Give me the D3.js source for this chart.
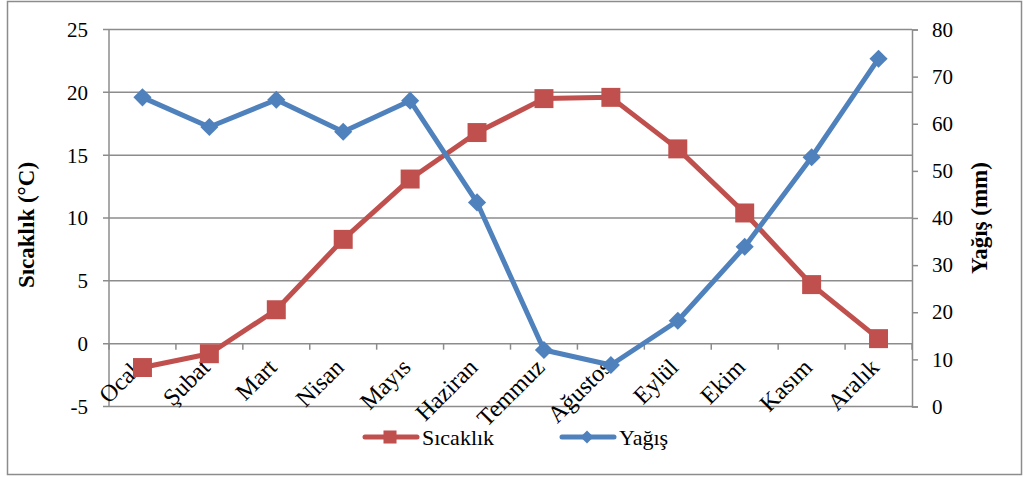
<!DOCTYPE html>
<html>
<head>
<meta charset="utf-8">
<script src="https://cdn.jsdelivr.net/npm/d3@7"></script>
<style>
  body { margin: 0; background: #fff; }
</style>
</head>
<body>
<div id="chart"></div>
<script>
// Data
const months = ['Ocak', 'Şubat', 'Mart', 'Nisan', 'Mayıs', 'Haziran', 'Temmuz', 'Ağustos', 'Eylül', 'Ekim', 'Kasım', 'Aralık'];
const temperature = [-1.9, -0.8, 2.7, 8.3, 13.1, 16.8, 19.5, 19.6, 15.5, 10.4, 4.7, 0.4];
const precipitation = [65.6, 59.3, 65.1, 58.3, 64.9, 43.3, 12.0, 8.8, 18.2, 33.9, 52.9, 73.8];
const leftTicks = [-5, 0, 5, 10, 15, 20, 25];
const rightTicks = [0, 10, 20, 30, 40, 50, 60, 70, 80];

(() => {
  const WIDTH = 1023;
  const HEIGHT = 477;
  const RED = '#C0504D';
  const BLUE = '#4F81BD';
  const GRID = '#8c8c8c';
  const FONT = "'Liberation Serif', 'Times New Roman', 'DejaVu Serif', serif";

  const m = { left: 109, right: 912, top: 29.5, bottom: 406.5 };

  const svg = d3.select('#chart').append('svg')
    .attr('width', WIDTH)
    .attr('height', HEIGHT)
    .style('font-family', FONT);

  // outer frame
  svg.append('rect')
    .attr('x', 7.5).attr('y', 1.5)
    .attr('width', 1014).attr('height', 473)
    .attr('fill', 'none').attr('stroke', GRID).attr('stroke-width', 1.5);

  const x = d3.scaleBand().domain(months).range([m.left, m.right]);
  const yL = d3.scaleLinear().domain([-5, 25]).range([m.bottom, m.top]);
  const yR = d3.scaleLinear().domain([0, 80]).range([m.bottom, m.top]);

  // gridlines
  svg.append('g').selectAll('line').data(leftTicks).join('line')
    .attr('x1', m.left - 6).attr('x2', m.right)
    .attr('y1', d => yL(d)).attr('y2', d => yL(d))
    .attr('stroke', GRID).attr('stroke-width', 1.5);

  // left axis line
  svg.append('line')
    .attr('x1', m.left).attr('x2', m.left)
    .attr('y1', m.top).attr('y2', m.bottom)
    .attr('stroke', GRID).attr('stroke-width', 1.5);

  // left tick labels
  svg.append('g').selectAll('text').data(leftTicks).join('text')
    .attr('x', 88).attr('y', d => yL(d))
    .attr('dy', '0.35em').attr('text-anchor', 'end')
    .style('font-family', FONT).style('font-size', '21px')
    .text(d => d);

  // right axis
  const rightAxis = d3.axisRight(yR).tickValues(rightTicks).tickSize(6).tickPadding(14);
  const gR = svg.append('g').attr('transform', `translate(${m.right},0)`).call(rightAxis);
  gR.attr('font-family', null).attr('font-size', null);
  gR.select('.domain').attr('stroke', GRID).attr('stroke-width', 1.5);
  gR.selectAll('.tick line').attr('stroke', GRID).attr('stroke-width', 1.5);
  gR.selectAll('.tick text').style('font-family', FONT).style('font-size', '21px');

  // category axis at y=0
  const y0 = yL(0);
  svg.append('g').selectAll('line').data(months.concat(['end'])).join('line')
    .attr('x1', (d, i) => m.left + i * x.step()).attr('x2', (d, i) => m.left + i * x.step())
    .attr('y1', y0).attr('y2', y0 + 6)
    .attr('stroke', GRID).attr('stroke-width', 1.5);

  svg.append('g').selectAll('text').data(months).join('text')
    .attr('text-anchor', 'end')
    .attr('transform', d => `translate(${x(d) + x.bandwidth() / 2 + 2},${y0 + 25}) rotate(-45)`)
    .style('font-family', FONT).style('font-size', '24px')
    .text(d => d);

  // axis titles
  svg.append('text')
    .attr('transform', `translate(34,225) rotate(-90)`)
    .attr('text-anchor', 'middle')
    .style('font-family', FONT).style('font-size', '23px').style('font-weight', 'bold')
    .text('Sıcaklık (°C)');

  svg.append('text')
    .attr('transform', `translate(987,218) rotate(-90)`)
    .attr('text-anchor', 'middle')
    .style('font-family', FONT).style('font-size', '23px').style('font-weight', 'bold')
    .text('Yağış (mm)');

  const cx = d => x(d) + x.bandwidth() / 2;

  // temperature line
  const lineT = d3.line().x((d, i) => cx(months[i])).y(d => yL(d));
  svg.append('path').datum(temperature)
    .attr('d', lineT).attr('fill', 'none')
    .attr('stroke', RED).attr('stroke-width', 5).attr('stroke-linejoin', 'round');

  // precipitation line
  const lineP = d3.line().x((d, i) => cx(months[i])).y(d => yR(d));
  svg.append('path').datum(precipitation)
    .attr('d', lineP).attr('fill', 'none')
    .attr('stroke', BLUE).attr('stroke-width', 5).attr('stroke-linejoin', 'round');

  const sq = d3.symbol().type(d3.symbolSquare).size(360);
  const dia = d3.symbol().type(d3.symbolDiamond2).size(210);

  svg.append('g').selectAll('path').data(temperature).join('path')
    .attr('d', sq)
    .attr('transform', (d, i) => `translate(${cx(months[i])},${yL(d)})`)
    .attr('fill', RED);

  svg.append('g').selectAll('path').data(precipitation).join('path')
    .attr('d', dia)
    .attr('transform', (d, i) => `translate(${cx(months[i])},${yR(d)})`)
    .attr('fill', BLUE);

  // legend
  const legendY = 437;
  const legend = [
    { name: 'Sıcaklık', color: RED, shape: d3.symbol().type(d3.symbolSquare).size(170), x: 363 },
    { name: 'Yağış', color: BLUE, shape: d3.symbol().type(d3.symbolDiamond2).size(110), x: 560 }
  ];
  const lg = svg.append('g').selectAll('g').data(legend).join('g')
    .attr('transform', d => `translate(${d.x},${legendY})`);
  lg.append('line')
    .attr('x1', 2).attr('x2', 54).attr('y1', 0).attr('y2', 0)
    .attr('stroke', d => d.color).attr('stroke-width', 5).attr('stroke-linecap', 'round');
  lg.append('path')
    .attr('d', d => d.shape())
    .attr('transform', 'translate(27,0)')
    .attr('fill', d => d.color);
  lg.append('text')
    .attr('x', 59).attr('y', 7.5)
    .style('font-family', FONT).style('font-size', '22px')
    .text(d => d.name);
})();
</script>
</body>
</html>
